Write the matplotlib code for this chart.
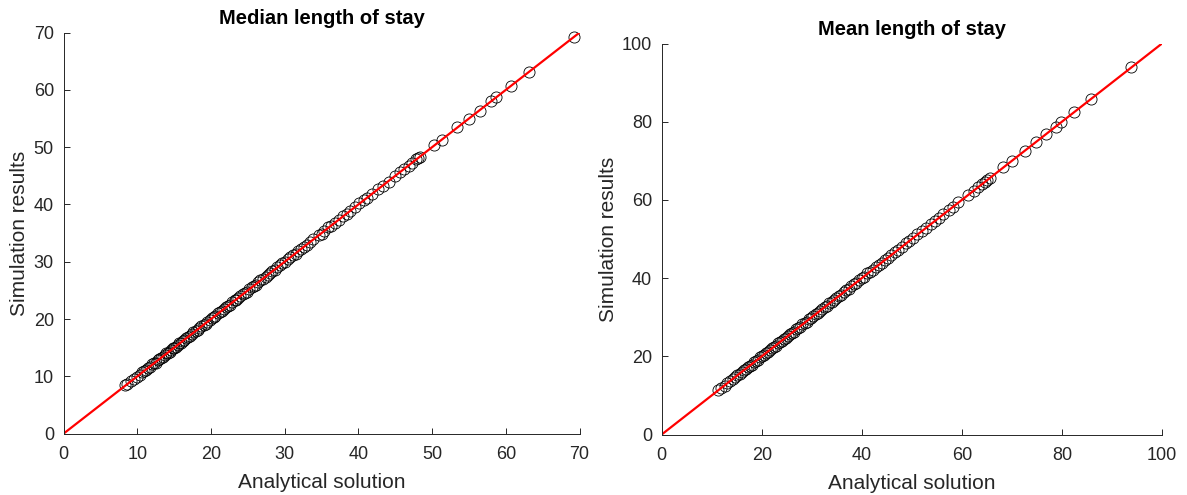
import matplotlib
matplotlib.use('Agg')
import matplotlib.pyplot as plt

plt.rcParams['font.family'] = ['Liberation Sans', 'DejaVu Sans']

# median length of stay (analytical vs simulated)
median_analytical = [8.3, 8.6, 9.2, 9.5, 9.9, 10.3, 10.6, 10.9, 11.2, 11.4, 11.7, 12.0,
                     12.3, 12.5, 12.8, 13.0, 13.2, 13.5, 13.7, 13.9, 14.1, 14.4, 14.6, 14.8,
                     15.0, 15.3, 15.5, 15.7, 15.9, 16.2, 16.4, 16.6, 16.9, 17.1, 17.4, 17.6,
                     17.9, 18.2, 18.4, 18.7, 19.0, 19.3, 19.5, 19.8, 20.1, 20.4, 20.6, 20.9,
                     21.2, 21.5, 21.7, 22.0, 22.3, 22.6, 22.9, 23.2, 23.4, 23.7, 24.0, 24.3,
                     24.6, 24.9, 25.2, 25.5, 25.8, 26.1, 26.4, 26.7, 27.0, 27.4, 27.7, 28.0,
                     28.3, 28.7, 29.0, 29.3, 29.7, 30.0, 30.4, 30.7, 31.1, 31.5, 31.8, 32.2,
                     32.6, 33.0, 33.4, 33.9, 34.6, 35.0, 35.4, 35.9, 36.3, 36.8, 37.3, 37.9,
                     38.4, 38.9, 39.5, 40.1, 40.7, 41.2, 41.9, 42.6, 43.3, 44.1, 44.9, 45.6,
                     46.2, 46.8, 47.3, 47.8, 48.1, 48.4,
                     50.3, 51.4, 53.4, 55.0, 56.5, 58.0, 58.7, 60.7, 63.1, 69.2]
median_simulation = [8.4, 8.6, 9.1, 9.6, 9.9, 10.2, 10.7, 10.9, 11.1, 11.5, 11.7, 12.1,
                     12.3, 12.4, 12.8, 13.1, 13.2, 13.4, 13.7, 14.0, 14.1, 14.3, 14.6, 14.9,
                     15.0, 15.2, 15.5, 15.8, 15.9, 16.1, 16.4, 16.7, 16.9, 17.0, 17.4, 17.7,
                     17.9, 18.1, 18.4, 18.8, 19.0, 19.2, 19.5, 19.9, 20.1, 20.3, 20.6, 21.0,
                     21.2, 21.4, 21.7, 22.1, 22.3, 22.5, 22.9, 23.3, 23.4, 23.6, 24.0, 24.4,
                     24.6, 24.8, 25.2, 25.6, 25.8, 26.0, 26.4, 26.8, 27.0, 27.3, 27.7, 28.1,
                     28.3, 28.6, 29.0, 29.4, 29.7, 29.9, 30.4, 30.8, 31.1, 31.4, 31.8, 32.3,
                     32.6, 32.9, 33.4, 34.0, 34.6, 34.9, 35.4, 36.0, 36.3, 36.7, 37.3, 38.0,
                     38.4, 38.8, 39.5, 40.2, 40.7, 41.1, 41.9, 42.7, 43.3, 44.0, 44.9, 45.7,
                     46.2, 46.7, 47.3, 47.9, 48.1, 48.3,
                     50.4, 51.3, 53.5, 55.0, 56.4, 58.1, 58.7, 60.6, 63.2, 69.3]

# mean length of stay
mean_analytical = [11.3, 11.8, 12.6, 13.1, 13.7, 14.2, 14.7, 15.1, 15.6, 16.0, 16.4, 16.8,
                   17.2, 17.6, 18.0, 18.4, 18.8, 19.2, 19.6, 20.0, 20.4, 20.8, 21.2, 21.6,
                   22.0, 22.4, 22.8, 23.2, 23.6, 24.0, 24.4, 24.8, 25.2, 25.6, 26.0, 26.4,
                   26.9, 27.3, 27.7, 28.1, 28.6, 29.0, 29.4, 29.9, 30.3, 30.8, 31.2, 31.7,
                   32.1, 32.6, 33.0, 33.5, 34.0, 34.4, 34.9, 35.4, 35.9, 36.4, 36.9, 37.4,
                   37.9, 38.4, 38.9, 39.5, 40.0, 40.5, 41.1, 41.6, 42.2, 42.8, 43.4, 44.0,
                   44.6, 45.2, 45.9, 46.6, 47.3, 48.0, 48.8, 49.5, 50.3, 51.1, 52.0, 52.9,
                   53.8, 54.6, 55.5, 56.3, 57.4, 58.3, 59.3, 61.2, 62.4, 63.3, 64.0, 64.6,
                   65.1, 65.6,
                   68.3, 70.0, 72.6, 74.8, 76.9, 78.8, 79.8, 82.5, 85.9, 93.9]
mean_simulation = [11.4, 11.8, 12.5, 13.2, 13.7, 14.1, 14.8, 15.1, 15.5, 16.1, 16.4, 16.7,
                   17.3, 17.6, 17.9, 18.5, 18.8, 19.1, 19.7, 20.0, 20.3, 20.9, 21.2, 21.5,
                   22.1, 22.4, 22.7, 23.3, 23.6, 23.9, 24.5, 24.8, 25.1, 25.7, 26.0, 26.3,
                   27.0, 27.3, 27.6, 28.2, 28.6, 28.9, 29.5, 29.9, 30.2, 30.9, 31.2, 31.6,
                   32.2, 32.6, 32.9, 33.6, 34.0, 34.3, 35.0, 35.4, 35.8, 36.5, 36.9, 37.3,
                   38.0, 38.4, 38.8, 39.6, 40.0, 40.4, 41.2, 41.6, 42.1, 42.9, 43.4, 43.9,
                   44.7, 45.2, 45.8, 46.7, 47.3, 47.9, 48.9, 49.5, 50.2, 51.2, 52.0, 52.8,
                   53.9, 54.6, 55.4, 56.4, 57.4, 58.2, 59.4, 61.2, 62.3, 63.4, 64.0, 64.5,
                   65.2, 65.6,
                   68.4, 70.0, 72.5, 74.9, 76.9, 78.7, 79.9, 82.5, 85.8, 94.0]

panels = [
    ('Median length of stay', median_analytical, median_simulation, 70, range(0, 71, 10),
     [63.6, 433.6, 579.5, 32.6]),
    ('Mean length of stay', mean_analytical, mean_simulation, 100, range(0, 101, 20),
     [661.7, 434.5, 1162.0, 43.5]),
]

W, H = 1187, 495
fig = plt.figure(figsize=(W / 100, H / 100), dpi=100)
axcol = '#262626'

for title, xa, ys, lim, ticks, box in panels:
    x0, y0, x1, y1 = box
    ax = fig.add_axes([x0 / W, 1 - y0 / H, (x1 - x0) / W, (y0 - y1) / H])
    ax.plot(xa, ys, 'o', markersize=8, markerfacecolor='none',
            markeredgecolor='black', markeredgewidth=0.6, clip_on=False)
    ax.plot([0, lim], [0, lim], '-', color='red', linewidth=1.6)
    ax.set_xlim(0, lim)
    ax.set_ylim(0, lim)
    ax.set_xticks(list(ticks))
    ax.set_yticks(list(ticks))
    for s in ['top', 'right']:
        ax.spines[s].set_visible(False)
    for s in ['left', 'bottom']:
        ax.spines[s].set_color(axcol)
        ax.spines[s].set_linewidth(0.7)
    ax.tick_params(direction='in', length=4, width=0.7, colors=axcol,
                   labelsize=13)
    ax.tick_params(axis='x', pad=9)
    ax.tick_params(axis='y', pad=7)
    ax.set_xlabel('Analytical solution', fontsize=15, color=axcol, labelpad=7)
    ax.set_ylabel('Simulation results', fontsize=15, color=axcol, labelpad=3)
    ax.set_title(title, fontsize=14.5, fontweight='bold', pad=6)

fig.savefig('out.png', dpi=100)
